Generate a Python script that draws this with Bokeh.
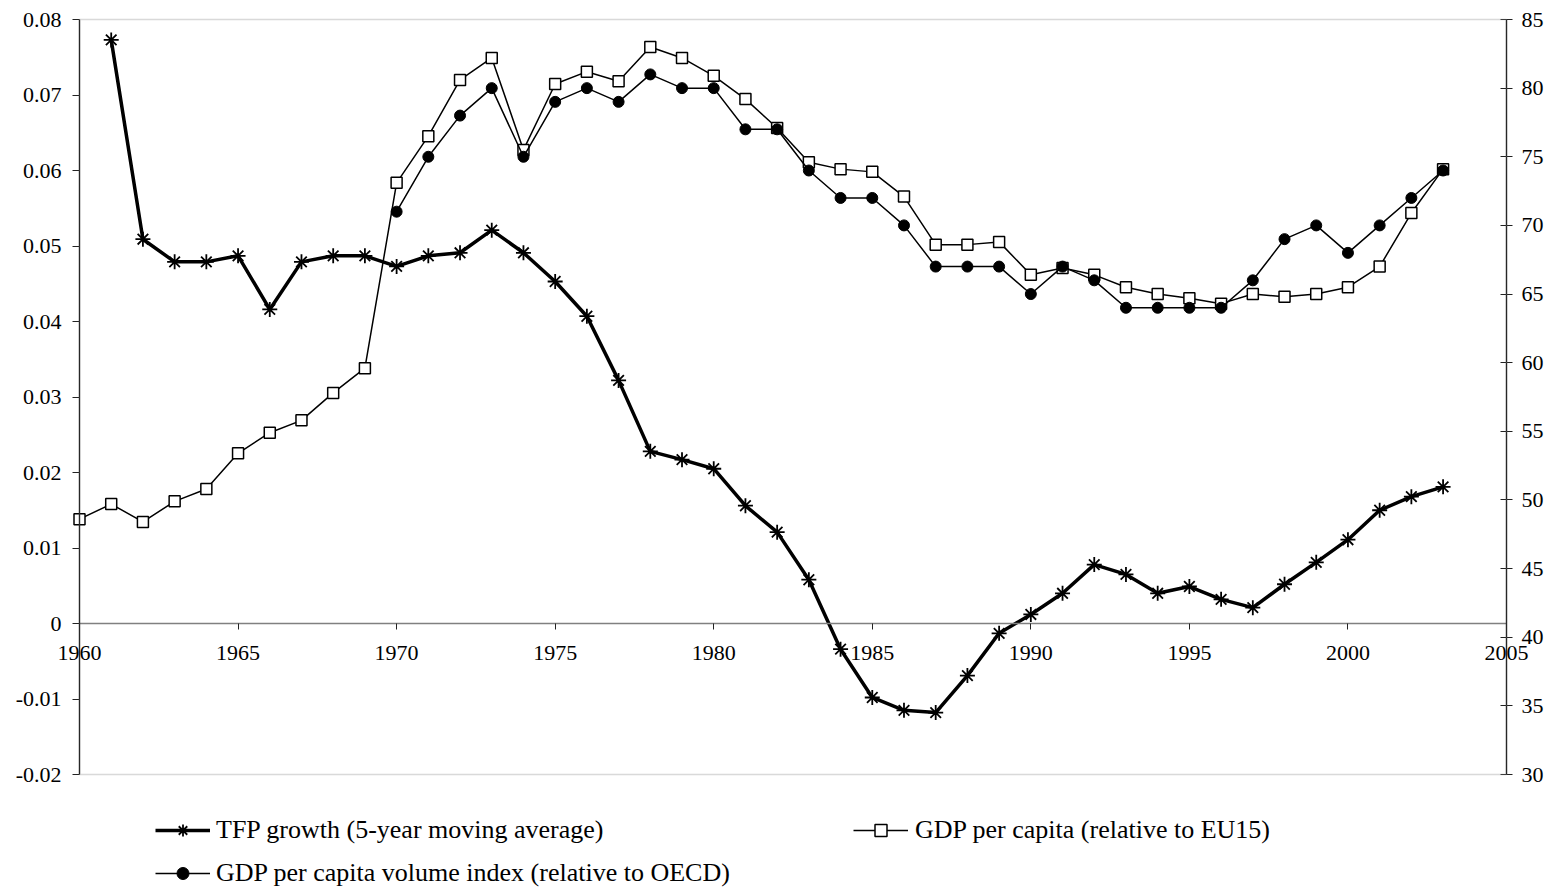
from bokeh.plotting import figure
from bokeh.models import (Range1d, LinearAxis, FixedTicker, CustomJSTickFormatter,
                          Legend, LegendItem, BoxAnnotation, Grid)
from bokeh.embed import file_html
from bokeh.resources import INLINE

# ---- data ----
tfp_years = list(range(1961, 2004))
tfp_growth = [0.0773, 0.0509, 0.0479, 0.0479, 0.0487, 0.0416, 0.0479, 0.0487, 0.0487, 0.0473,
              0.0487, 0.0491, 0.0521, 0.0491, 0.0453, 0.0407, 0.0322, 0.0228, 0.0217, 0.0205,
              0.0156, 0.0121, 0.0058, -0.0034, -0.0098, -0.0115, -0.0118, -0.0069, -0.0013, 0.0012,
              0.0040, 0.0078, 0.0065, 0.0040, 0.0049, 0.0032, 0.0021, 0.0052, 0.0081, 0.0111,
              0.0150, 0.0168, 0.0181]

eu_years = list(range(1960, 2004))
gdp_eu15 = [48.6, 49.7, 48.4, 49.9, 50.8, 53.4, 54.9, 55.8, 57.8, 59.6,
            73.1, 76.5, 80.6, 82.2, 75.5, 80.3, 81.2, 80.5, 83.0, 82.2,
            80.9, 79.2, 77.1, 74.6, 74.1, 73.9, 72.1, 68.6, 68.6, 68.8,
            66.4, 66.9, 66.4, 65.5, 65.0, 64.7, 64.3, 65.0, 64.8, 65.0,
            65.5, 67.0, 70.9, 74.1]

oecd_years = list(range(1970, 2004))
gdp_oecd = [71, 75, 78, 80, 75, 79, 80, 79, 81, 80,
            80, 77, 77, 74, 72, 72, 70, 67, 67, 67,
            65, 67, 66, 64, 64, 64, 64, 66, 69, 70,
            68, 70, 72, 74]

x_ticks = [1960, 1965, 1970, 1975, 1980, 1985, 1990, 1995, 2000, 2005]
left_ticks = [-0.02, -0.01, 0.0, 0.01, 0.02, 0.03, 0.04, 0.05, 0.06, 0.07, 0.08]
right_ticks = [30, 35, 40, 45, 50, 55, 60, 65, 70, 75, 80, 85]

X0, X1 = 1960, 2005
YL0, YL1 = -0.02, 0.08
YR0, YR1 = 30, 85

# ---- layout (pixels) ----
W, H = 1550, 888
PX_L, PX_R = 79, 1506      # plot area left / right
PX_T, PX_B = 19, 774       # plot area top / bottom

sx = (PX_R - PX_L) / (X1 - X0)
syl = (PX_B - PX_T) / (YL1 - YL0)
syr = (PX_B - PX_T) / (YR1 - YR0)

x_range = Range1d(X0 - PX_L / sx, X1 + (W - PX_R) / sx)
y_range = Range1d(YL0 - (H - PX_B) / syl, YL1 + PX_T / syl)
yr_range = Range1d(YR0 - (H - PX_B) / syr, YR1 + PX_T / syr)

FONT = "Liberation Serif"
FS = "22px"
LFS = "26px"

p = figure(width=W, height=H, output_backend="svg", toolbar_location=None,
           x_range=x_range, y_range=y_range,
           x_axis_location=None, y_axis_location=None,
           min_border_left=0, min_border_right=0, min_border_top=0, min_border_bottom=0)
p.extra_y_ranges = {"right": yr_range}
for g in p.select(type=Grid):
    g.visible = False
p.outline_line_color = None
p.background_fill_color = "white"
p.border_fill_color = "white"

# plot-area box (gray top/bottom edges)
p.add_layout(BoxAnnotation(left=X0, right=X1, bottom=YL0, top=YL1,
                           fill_alpha=0, line_color="#808080", line_width=1.5))


def style_axis(ax, standoff, tin, tout, line_color="black"):
    ax.axis_line_color = line_color
    ax.axis_line_width = 1.3
    ax.major_tick_line_color = "#222222"
    ax.major_tick_in = tin
    ax.major_tick_out = tout
    ax.minor_tick_line_color = None
    ax.major_label_text_font = FONT
    ax.major_label_text_font_size = FS
    ax.major_label_text_color = "black"
    ax.major_label_standoff = standoff


xa = LinearAxis(ticker=FixedTicker(ticks=x_ticks), fixed_location=0, bounds=(X0, X1))
style_axis(xa, 16, 0, 6, "#808080")
p.add_layout(xa, "below")

ya = LinearAxis(ticker=FixedTicker(ticks=left_ticks), fixed_location=X0, bounds=(YL0, YL1))
ya.formatter = CustomJSTickFormatter(code="""
var v = Math.round(tick*100)/100;
return v == 0 ? "0" : v.toFixed(2);
""")
style_axis(ya, 11, 0, 7)
p.add_layout(ya, "left")

ra = LinearAxis(y_range_name="right", ticker=FixedTicker(ticks=right_ticks),
                fixed_location=X1, bounds=(YR0, YR1))
style_axis(ra, 9, 6, 6)
p.add_layout(ra, "right")

# series
eu_line = p.line(eu_years, gdp_eu15, y_range_name="right", line_color="black", line_width=1.5)
eu_pts = p.scatter(eu_years, gdp_eu15, y_range_name="right", marker="square", size=11,
                   fill_color="white", line_color="black", line_width=1.5)

oe_line = p.line(oecd_years, gdp_oecd, y_range_name="right", line_color="black", line_width=1.5)
oe_pts = p.scatter(oecd_years, gdp_oecd, y_range_name="right", marker="circle", size=11,
                   fill_color="black", line_color="black")

tfp_line = p.line(tfp_years, tfp_growth, line_color="black", line_width=3.5)
tfp_pts = p.scatter(tfp_years, tfp_growth, marker="asterisk", size=15,
                    line_color="black", line_width=1.8)


def make_legend(label, renderers, loc, standoff):
    lg = Legend(items=[LegendItem(label=label, renderers=renderers)], location=loc)
    lg.label_text_font = FONT
    lg.label_text_font_size = LFS
    lg.label_text_color = "black"
    lg.glyph_width = 55
    lg.glyph_height = 30
    lg.label_height = 30
    lg.label_standoff = standoff
    lg.padding = 0
    lg.margin = 0
    lg.spacing = 0
    lg.border_line_color = None
    lg.background_fill_alpha = 0
    p.add_layout(lg, "center")


make_legend("TFP growth (5-year moving average)", [tfp_line, tfp_pts], (155, 43), 6)
make_legend("GDP per capita (relative to EU15)", [eu_line, eu_pts], (853, 43), 7)
make_legend("GDP per capita volume index (relative to OECD)", [oe_line, oe_pts], (155, 0), 6)

open("out.html", "w").write(file_html(p, INLINE))
